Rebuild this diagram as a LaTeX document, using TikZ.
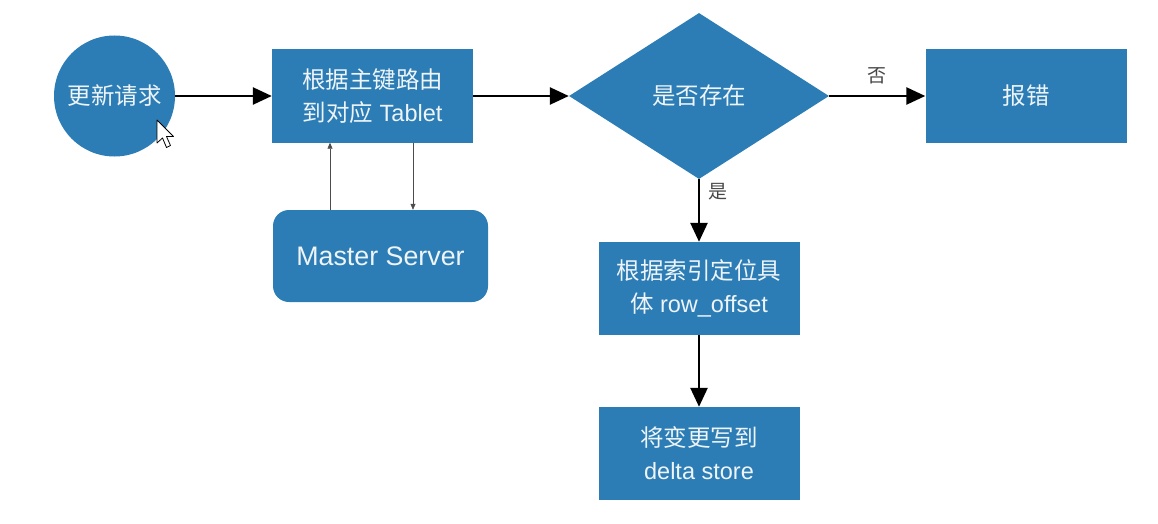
\documentclass[tikz,border=0pt]{standalone}
\usepackage{fontspec}
\setmainfont{Liberation Sans}
\newfontfamily\cjk{Noto Sans CJK SC}
\usetikzlibrary{shapes.geometric,arrows.meta}
\definecolor{kblue}{RGB}{44,125,181}
\definecolor{ktext}{RGB}{238,244,248}
\definecolor{klabel}{RGB}{70,70,70}
\tikzset{
  base/.style={fill=kblue, text=ktext, draw=none, inner sep=0pt, align=center,
    font=\fontsize{23.5}{33}\selectfont},
  box/.style={base, minimum width=201pt, minimum height=93pt},
  rbox/.style={base, minimum width=215pt, minimum height=92pt, rounded corners=16pt,
    font=\fontsize{26.8}{30}\selectfont},
  circ/.style={base, circle, minimum size=121pt},
  dia/.style={base, diamond, aspect=1.57, minimum width=260pt, minimum height=166pt},
  bigarrow/.style={line width=2.6pt, -{Triangle[length=19pt,width=17pt]}},
  thinarrow/.style={line width=0.6pt, draw=black!70, -{Triangle[length=6pt,width=5pt]}},
  lbl/.style={text=klabel, font=\cjk\fontsize{19}{22}\selectfont, inner sep=0pt}
}
\begin{document}
\begin{tikzpicture}[x=1pt,y=-1pt]
\useasboundingbox (0,0) rectangle (1158,524);
\node[circ] (req) at (114.5,96) {\cjk 更新请求};
\node[box] (route) at (372.5,96) {{\cjk 根据主键路由}\\{\cjk 到对应} Tablet};
\node[rbox] (ms) at (380.5,256) {Master Server};
\node[dia] (ex) at (699,96) {\cjk 是否存在};
\node[box] (err) at (1026,96) {\cjk 报错};
\node[box] (idx) at (699,288.5) {\cjk 根据索引定位具\\{\cjk 体} row\_offset};
\node[box] (wr) at (699,453.5) {{\cjk 将变更写到}\\delta store};

\coordinate (upx) at (330,0);
\coordinate (dnx) at (413,0);
\draw[bigarrow] (req.east) -- (route.west);
\draw[bigarrow] (route.east) -- (ex.west);
\draw[bigarrow] (ex.east) -- node[lbl, above=11pt] (no) {否} (err.west);
\draw[bigarrow] (ex.south) -- node[lbl, right=8pt, pos=0.2] (yes) {是} (idx.north);
\draw[bigarrow] (idx.south) -- (wr.north);
\draw[thinarrow] (ms.north -| upx) -- (route.south -| upx);
\draw[thinarrow] (route.south -| dnx) -- (ms.north -| dnx);

% mouse cursor
\draw[fill=white, line width=0.8pt, line join=round]
  (157,120) -- (157,143) -- (162.5,138) -- (166.5,147.5) -- (170.5,145.5) -- (166.5,136.5) -- (173.5,136.5) -- cycle;
\end{tikzpicture}
\end{document}
